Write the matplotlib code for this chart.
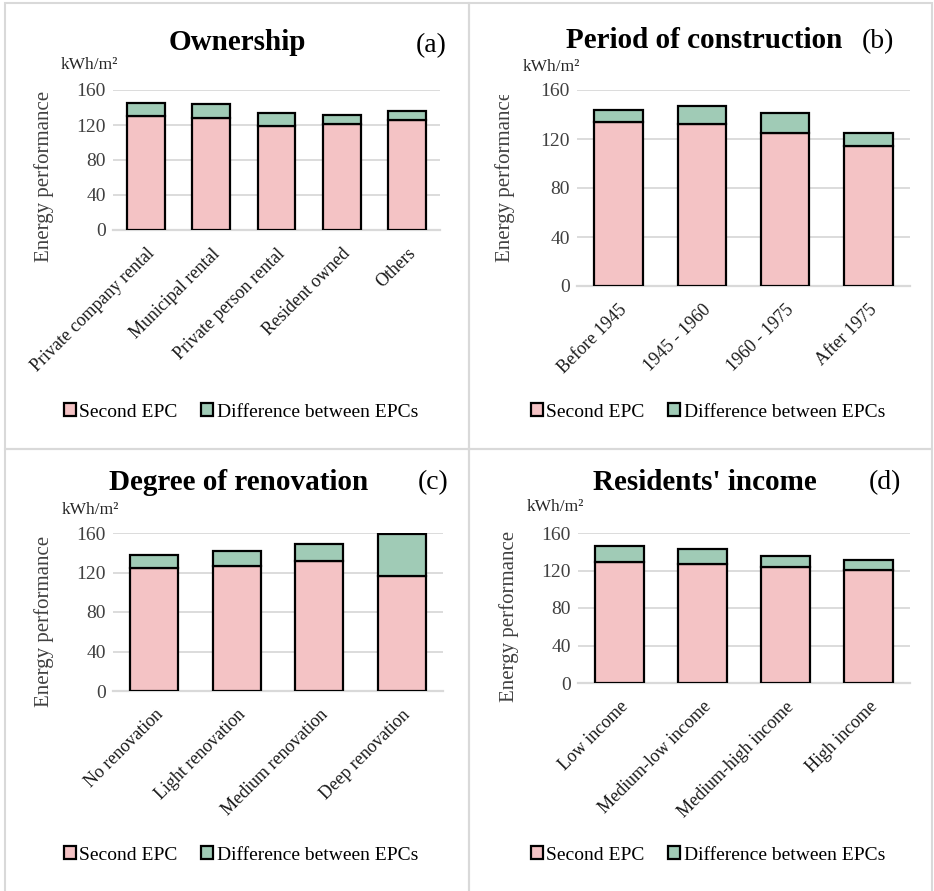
import numpy as np
import matplotlib.pyplot as plt
from matplotlib.patches import Rectangle, Patch
from matplotlib.transforms import Bbox

plt.rcParams['font.family'] = ['Liberation Serif', 'DejaVu Serif']

pink = '#F4C3C5'
green = '#A0CBB6'
grid_col = '#D9D9D9'

# data (kWh/m2)
own_cats = ['Private company rental', 'Municipal rental', 'Private person rental',
            'Resident owned', 'Others']
own_second = [130, 128, 119, 121, 126]
own_total = [145, 144.5, 134, 132, 136]

per_cats = ['Before 1945', '1945 - 1960', '1960 - 1975', 'After 1975']
per_second = [134, 132, 124.5, 114.5]
per_total = [144, 147, 141.5, 125]

ren_cats = ['No renovation', 'Light renovation', 'Medium renovation', 'Deep renovation']
ren_second = [124.5, 127, 132, 116.5]
ren_total = [137.5, 142, 149, 158.5]

inc_cats = ['Low income', 'Medium-low income', 'Medium-high income', 'High income']
inc_second = [129.5, 127, 124, 121]
inc_total = [146.5, 143, 135.5, 131]

W, H = 934, 891
fig = plt.figure(figsize=(W / 100, H / 100), dpi=100)


def px_axes(x0, y0, x1, y1):
    # pixel box (top-left origin) -> figure axes
    return fig.add_axes([x0 / W, 1 - y1 / H, (x1 - x0) / W, (y1 - y0) / H])


def panel(box, cats, second, total, title, tag, title_xy, tag_xy, unit_xy,
          ylab_xy, leg_xy, ylab_clip=None):
    ax = px_axes(*box)
    x = np.arange(len(cats))
    diff = np.array(total) - np.array(second)
    ax.bar(x, second, width=0.58, color=pink, edgecolor='black', linewidth=1.6, zorder=3)
    ax.bar(x, diff, bottom=second, width=0.58, color=green, edgecolor='black',
           linewidth=1.6, zorder=3)
    ax.set_ylim(0, 160)
    ax.set_xlim(-0.5, len(cats) - 0.5)
    ax.set_yticks([0, 40, 80, 120, 160])
    ax.yaxis.grid(True, color=grid_col, linewidth=1.3, zorder=0)
    for s in ['top', 'right', 'left']:
        ax.spines[s].set_visible(False)
    ax.spines['bottom'].set_color(grid_col)
    ax.spines['bottom'].set_linewidth(1.6)
    ax.tick_params(axis='y', length=0, labelsize=14, labelcolor='#404040', pad=5)
    ax.tick_params(axis='x', length=0, pad=11)
    ax.set_xticks(x)
    ax.set_xticklabels(cats, rotation=45, ha='right', rotation_mode='anchor',
                       fontsize=13, color='#1a1a1a')
    fig.text(title_xy[0] / W, 1 - title_xy[1] / H, title, fontsize=21,
             fontweight='bold', ha='center', va='center')
    fig.text(tag_xy[0] / W, 1 - tag_xy[1] / H, tag, fontsize=20,
             ha='center', va='center')
    fig.text(unit_xy[0] / W, 1 - unit_xy[1] / H, 'kWh/m²', fontsize=12.5,
             ha='center', va='center', color='#262626')
    yl = fig.text(ylab_xy[0] / W, 1 - ylab_xy[1] / H, 'Energy performance',
                  fontsize=15, rotation=90, ha='center', va='center', color='#404040')
    if ylab_clip is not None:
        # the label is cut at the top in the source picture
        yl.set_clip_box(Bbox([[0, 0], [W, H - ylab_clip]]))
        yl.set_clip_on(True)
    handles = [Patch(facecolor=pink, edgecolor='black', linewidth=1.6, label='Second EPC'),
               Patch(facecolor=green, edgecolor='black', linewidth=1.6,
                     label='Difference between EPCs')]
    fig.legend(handles=handles, loc='center', ncol=2, frameon=False, fontsize=14,
               bbox_to_anchor=(leg_xy[0] / W, 1 - leg_xy[1] / H),
               handlelength=0.6, handleheight=0.6, handletextpad=0.2,
               columnspacing=1.2)
    return ax


panel((113, 90, 440, 230), own_cats, own_second, own_total, 'Ownership', '(a)',
      (237, 42), (431, 46), (89, 65), (44, 176), (241, 412))
panel((577, 90, 910, 286), per_cats, per_second, per_total, 'Period of construction',
      '(b)', (704, 40), (878, 42), (551, 67), (505, 176), (708, 412), ylab_clip=95)
panel((113, 533, 443, 691), ren_cats, ren_second, ren_total, 'Degree of renovation',
      '(c)', (239, 483), (433, 483), (90, 510), (44, 621), (241, 855))
panel((578, 533, 910, 683), inc_cats, inc_second, inc_total, "Residents' income",
      '(d)', (705, 483), (885, 483), (555, 507), (509, 616), (708, 855))

# panel borders
for (x0, y0, x1, y1) in [(5, 3, 469, 449), (469, 3, 932, 449),
                         (5, 449, 469, 893), (469, 449, 932, 893)]:
    fig.add_artist(Rectangle((x0 / W, 1 - y1 / H), (x1 - x0) / W, (y1 - y0) / H,
                             transform=fig.transFigure, fill=False,
                             edgecolor='#D9D9D9', linewidth=1.5))

fig.savefig('out.png', dpi=100)
